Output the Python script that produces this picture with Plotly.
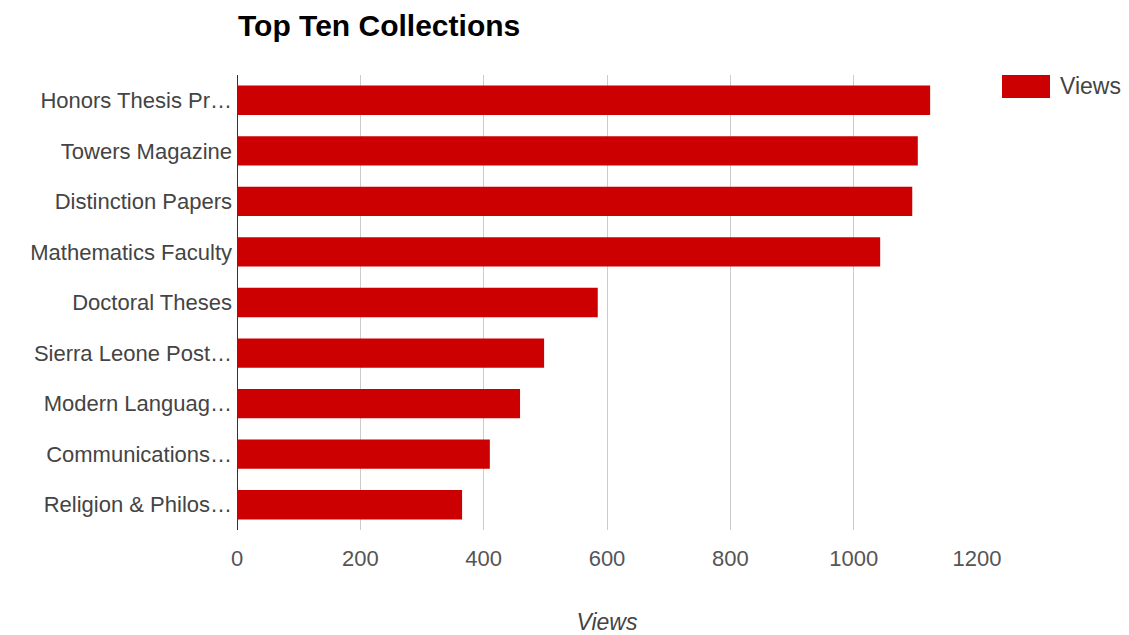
import plotly.graph_objects as go

categories = ["Honors Thesis Pr…", "Towers Magazine", "Distinction Papers",
              "Mathematics Faculty", "Doctoral Theses", "Sierra Leone Post…",
              "Modern Languag…", "Communications…", "Religion & Philos…"]
views = [1124, 1104, 1095, 1043, 585, 498, 459, 410, 365]
x_ticks = [0, 200, 400, 600, 800, 1000, 1200]

FONT = "Liberation Sans, Arial, sans-serif"
RED = "#cc0000"

W, H = 1121, 627  # page body adds an 8px offset
fig = go.Figure()
fig.add_trace(go.Bar(
    y=categories, x=views, orientation="h", name="Views",
    marker=dict(color=RED, line=dict(width=0)), width=0.58,
    showlegend=False,
))

fig.update_layout(
    width=W, height=H,
    margin=dict(l=229, r=152, t=67, b=105),
    paper_bgcolor="white", plot_bgcolor="white",
    font=dict(family=FONT, color="#444444"),
    title=dict(text="<b>Top Ten Collections</b>", x=230 / W, xanchor="left",
               y=1 - 17 / H, yanchor="middle",
               font=dict(size=30, color="#000000", family=FONT)),
)
fig.update_xaxes(
    range=[0, 1200], tickvals=x_ticks, ticktext=[str(v) for v in x_ticks],
    showgrid=True, gridcolor="#cccccc", gridwidth=1,
    zeroline=True, zerolinecolor="#333333", zerolinewidth=1,
    tickfont=dict(size=22, color="#555555", family=FONT),
    ticks="", ticklabelstandoff=13, automargin=False,
    title=dict(text="<i>Views</i>", font=dict(size=23, color="#444444", family=FONT), standoff=44),
)
fig.update_yaxes(
    categoryorder="array", categoryarray=categories[::-1],
    tickfont=dict(size=22, color="#444444", family=FONT),
    showgrid=False, ticks="", ticklabelstandoff=4, automargin=False,
)

# legend drawn manually in Google Charts style
fig.add_shape(type="rect", xref="paper", yref="paper",
              x0=(1002 - 237) / 740, x1=(1050 - 237) / 740,
              y0=(530 - 98) / 455, y1=(530 - 75) / 455,
              fillcolor=RED, line=dict(width=0))
fig.add_annotation(text="Views", xref="paper", yref="paper",
                   x=(1058 - 237) / 740, y=(530 - 86) / 455,
                   xanchor="left", yanchor="middle", showarrow=False,
                   font=dict(size=23, color="#444444", family=FONT))

fig.write_html("out.html")
